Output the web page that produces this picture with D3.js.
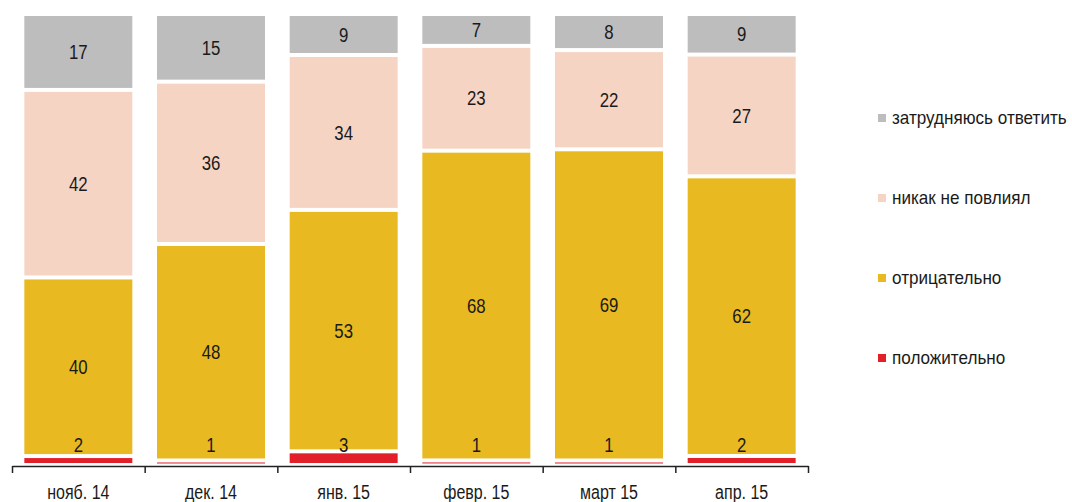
<!DOCTYPE html>
<html>
<head>
<meta charset="utf-8">
<script src="https://cdnjs.cloudflare.com/ajax/libs/d3/7.8.5/d3.min.js"></script>
<style>
body { margin: 0; background: #fff; }
text { font-family: "Liberation Sans", Arial, sans-serif; fill: #1a1a1a; }
</style>
</head>
<body>
<svg id="chart" width="1072" height="502"></svg>
<script>
var months = ["нояб. 14", "дек. 14", "янв. 15", "февр. 15", "март 15", "апр. 15"];
var seriesNames = ["положительно", "отрицательно", "никак не повлиял", "затрудняюсь ответить"];
var positive = [2, 1, 3, 1, 1, 2];
var negative = [40, 48, 53, 68, 69, 62];
var noEffect = [42, 36, 34, 23, 22, 27];
var hardToSay = [17, 15, 9, 7, 8, 9];
var colors = ["#e2202a", "#e8b920", "#f6d4c4", "#bdbdbd"];

var svg = d3.select('#chart');
var series = [positive, negative, noEffect, hardToSay];
var narrow = 0.8; // imitate the narrow font of the original

var x = d3.scaleBand().domain(months).range([12, 808])
    .paddingInner(0.186).paddingOuter(0.093);
var y = d3.scaleLinear().domain([0, 1]).range([465, 14]);

var rows = months.map(function(m, i){
    var total = d3.sum(series, function(s){ return s[i]; });
    var acc = 0;
    return series.map(function(s, k){
        var r = { month: m, k: k, value: s[i], y0: acc / total, y1: (acc + s[i]) / total };
        acc += s[i];
        return r;
    });
});
var segs = [].concat.apply([], rows);

svg.selectAll('rect.seg').data(segs).enter().append('rect')
    .attr('class', 'seg')
    .attr('x', function(d){ return x(d.month); })
    .attr('width', x.bandwidth())
    .attr('y', function(d){ return y(d.y1) + 2; })
    .attr('height', function(d){ return Math.max(1, y(d.y0) - y(d.y1) - 4); })
    .style('fill', function(d){ return colors[d.k]; });

svg.selectAll('text.val').data(segs).enter().append('text')
    .attr('class', 'val')
    .attr('transform', function(d){
        var cx = x(d.month) + x.bandwidth() / 2;
        var cy = d.k == 0 ? y(0) - 20 : (y(d.y0) + y(d.y1)) / 2;
        return 'translate(' + cx + ',' + cy + ') scale(' + narrow + ',1)';
    })
    .attr('text-anchor', 'middle')
    .attr('dominant-baseline', 'central')
    .style('font-size', '21px')
    .text(function(d){ return d.value; });

// axis with ticks between categories
var xt = d3.scaleLinear().domain([0, months.length]).range([12, 808]);
var axis = svg.append('g').attr('transform', 'translate(0,466)')
    .call(d3.axisBottom(xt).tickValues(d3.range(months.length + 1)).tickFormat('').tickSize(7).tickSizeOuter(0));
axis.selectAll('path, line').attr('stroke', '#222').attr('stroke-width', 1.5);

svg.selectAll('text.cat').data(months).enter().append('text')
    .attr('class', 'cat')
    .attr('transform', function(d){
        return 'translate(' + (x(d) + x.bandwidth() / 2) + ',492) scale(' + narrow + ',1)';
    })
    .attr('text-anchor', 'middle')
    .attr('dominant-baseline', 'central')
    .style('font-size', '20px')
    .text(function(d){ return d; });

// legend
var legendOrder = [3, 2, 1, 0];
var lg = svg.selectAll('g.leg').data(legendOrder).enter().append('g')
    .attr('class', 'leg')
    .attr('transform', function(d, i){ return 'translate(878,' + (118 + i * 80) + ')'; });
lg.append('rect').attr('x', 0).attr('y', -4).attr('width', 8).attr('height', 8)
    .style('fill', function(d){ return colors[d]; });
lg.append('text')
    .attr('transform', 'translate(14,0) scale(0.95,1)')
    .attr('dominant-baseline', 'central')
    .style('font-size', '18px')
    .text(function(d){ return seriesNames[d]; });
</script>
</body>
</html>
